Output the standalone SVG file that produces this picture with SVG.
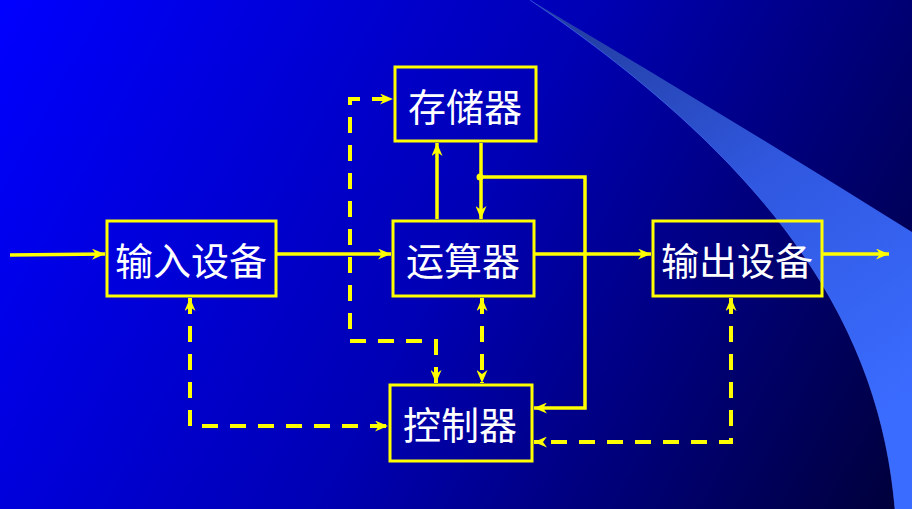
<svg xmlns="http://www.w3.org/2000/svg" width="912" height="509" viewBox="0 0 912 509">
  <defs>
    <linearGradient id="bg" x1="0" y1="0" x2="912" y2="509" gradientUnits="userSpaceOnUse">
      <stop offset="0" stop-color="#0000FF"/>
      <stop offset="0.5" stop-color="#0000B4"/>
      <stop offset="1" stop-color="#000038"/>
    </linearGradient>
    <linearGradient id="sweep" x1="600" y1="30" x2="880" y2="420" gradientUnits="userSpaceOnUse">
      <stop offset="0" stop-color="#2440A8"/>
      <stop offset="0.45" stop-color="#3058E0"/>
      <stop offset="1" stop-color="#3A6CFF"/>
    </linearGradient>
    <marker id="arrow" viewBox="0 0 13 11" refX="13" refY="5.5" markerWidth="13" markerHeight="11" markerUnits="userSpaceOnUse" orient="auto-start-reverse">
      <path d="M0,0 L13,5.5 L0,11 L4,5.5 Z" fill="#FFFF00"/>
    </marker>
    <style>
      .box { fill: none; stroke: #FFFF00; stroke-width: 3; }
      .label { fill: #FFFFFF; font-family: "Noto Sans CJK SC", "Noto Sans CJK TC", sans-serif; font-size: 38px; text-anchor: middle; dominant-baseline: central; }
      .solid { fill: none; stroke: #FFFF00; stroke-width: 3.5; }
      .dash { fill: none; stroke: #FFFF00; stroke-width: 4; stroke-dasharray: 16 12; }
    </style>
  </defs>

  <!-- backdrop -->
  <rect width="912" height="509" fill="url(#bg)"/>
  <path d="M530,0 Q720,112 912,232 L912,509 L895,509 C880,330 780,170 530,0 Z" fill="url(#sweep)"/>
  <path d="M895,509 C880,330 780,170 530,0" fill="none" stroke="#4A78FF" stroke-width="1" opacity="0.6"/>

  <!-- nodes -->
  <g id="storage">
    <rect class="box" x="395" y="67" width="141" height="74"/>
    <text class="label" x="465" y="104">存储器</text>
  </g>
  <g id="input">
    <rect class="box" x="107" y="221" width="169" height="75"/>
    <text class="label" x="191" y="258">输入设备</text>
  </g>
  <g id="alu">
    <rect class="box" x="393" y="221" width="141" height="75"/>
    <text class="label" x="463" y="258">运算器</text>
  </g>
  <g id="output">
    <rect class="box" x="653" y="221" width="169" height="75"/>
    <text class="label" x="737" y="258">输出设备</text>
  </g>
  <g id="control">
    <rect class="box" x="390" y="385" width="142" height="76"/>
    <text class="label" x="460" y="422">控制器</text>
  </g>

  <!-- connectors -->
  <g id="connectors">
    <path class="solid" d="M10,255 L105,254" marker-end="url(#arrow)"/>
    <path class="solid" d="M277,254 L391,254" marker-end="url(#arrow)"/>
    <path class="solid" d="M535,254 L651,254" marker-end="url(#arrow)"/>
    <path class="solid" d="M823,254 L889,254" marker-end="url(#arrow)"/>
    <path class="solid" d="M437,219 L437,143" marker-end="url(#arrow)"/>
    <path class="solid" d="M481,143 L481,219" marker-end="url(#arrow)"/>
    <circle cx="480" cy="177" r="3.5" fill="#FFFF00"/>
    <path class="solid" d="M481,177 L585,177 L585,408 L534,408" marker-end="url(#arrow)"/>

    <path class="dash" d="M436,383 L436,341 L350,341 L350,99 L393,99" marker-start="url(#arrow)" marker-end="url(#arrow)"/>
    <path class="dash" d="M482,298 L482,383" marker-start="url(#arrow)" marker-end="url(#arrow)"/>
    <path class="dash" d="M190,298 L190,426 L388,426" marker-start="url(#arrow)" marker-end="url(#arrow)"/>
    <path class="dash" d="M731,298 L731,442 L534,442" marker-start="url(#arrow)" marker-end="url(#arrow)"/>
  </g>
</svg>
